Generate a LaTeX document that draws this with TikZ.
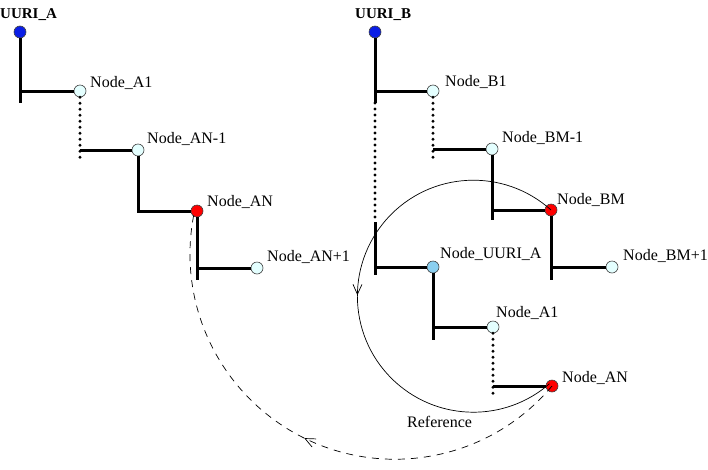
\documentclass[tikz,border=0pt]{standalone}
\usepackage{fontspec}
\setmainfont{Liberation Serif}
\usetikzlibrary{arrows.meta, positioning, decorations.markings}
\definecolor{colRoot}{HTML}{0A1EE6}
\definecolor{colLeaf}{HTML}{E4FFFF}
\definecolor{colHit}{HTML}{FF0000}
\definecolor{colLink}{HTML}{8ACFF0}

\begin{document}
\begin{tikzpicture}[x=1pt, y=1pt, font=\fontsize{16}{18}\selectfont,
    knot/.style={circle, draw=black!75, line width=0.6pt, inner sep=0pt, minimum size=12pt},
    branch/.style={line width=3pt},
    gap/.style={line width=3.2pt, line cap=round, dash pattern=on 0pt off 6pt},
    lbl/.style={anchor=base west, inner sep=0pt},
    rootlbl/.style={lbl, font=\fontsize{15}{18}\selectfont\bfseries},
    midarrow/.style={postaction={decorate}, decoration={markings,
        mark=at position 0.5 with {\arrow{Straight Barb[length=10pt, width=9pt]}}}}]
    \useasboundingbox (0,0) rectangle (708,-469);
    % Tree A
    \node[knot, fill=colRoot] (ua) at (20,-32) {};
    \node[knot, fill=colLeaf] (a1) at (80,-91) {};
    \node[knot, fill=colLeaf] (an1) at (138,-150) {};
    \node[knot, fill=colHit] (an) at (197,-211) {};
    \node[knot, fill=colLeaf] (anp) at (257,-268) {};
    \node[rootlbl] (ualbl) at (0,-18) {UURI\_A};
    \node[lbl] (a1lbl) at (90,-87) {Node\_A1};
    \node[lbl] (an1lbl) at (147,-143) {Node\_AN-1};
    \node[lbl] (anlbl) at (207,-206) {Node\_AN};
    \node[lbl] (anplbl) at (267,-261) {Node\_AN+1};
    \draw[branch] (ua) -- ++(0,-71);
    \draw[branch] (ua |- a1) -- (a1);
    \draw[gap] (a1) -- ++(0,-69);
    \draw[branch] (a1 |- an1) -- (an1);
    \draw[branch] (an1) |- (an);
    \draw[branch] (an) -- ++(0,-69);
    \draw[branch] (an |- anp) -- (anp);
    % Tree B
    \node[knot, fill=colRoot] (ub) at (375,-32) {};
    \node[knot, fill=colLeaf] (b1) at (433,-91) {};
    \node[knot, fill=colLeaf] (bm1) at (492,-149) {};
    \node[knot, fill=colHit] (bm) at (551,-210) {};
    \node[knot, fill=colLeaf] (bmp) at (612,-267) {};
    \node[knot, fill=colLink] (ub2) at (433,-267) {};
    \node[knot, fill=colLeaf] (b2) at (493,-327) {};
    \node[knot, fill=colHit] (bn) at (552,-386) {};
    \node[rootlbl] (ublbl) at (355,-18) {UURI\_B};
    \node[lbl] (b1lbl) at (445,-86) {Node\_B1};
    \node[lbl] (bm1lbl) at (502,-142) {Node\_BM-1};
    \node[lbl] (bmlbl) at (557,-204) {Node\_BM};
    \node[lbl] (bmplbl) at (623,-260) {Node\_BM+1};
    \node[lbl] (ub2lbl) at (440,-258) {Node\_UURI\_A};
    \node[lbl] (b2lbl) at (496,-317) {Node\_A1};
    \node[lbl] (bnlbl) at (562,-382) {Node\_AN};
    \coordinate (gb1) at (375,-103);
    \coordinate (gb2) at (375,-222);
    \draw[branch] (ub) -- (gb1);
    \draw[gap] (gb1) -- (gb2);
    \draw[branch] (gb2) -- ++(0,-53);
    \draw[branch] (gb2 |- ub2) -- (ub2);
    \draw[branch] (ub |- b1) -- (b1);
    \draw[gap] (b1) -- ++(0,-67);
    \draw[branch] (b1 |- bm1) -- (bm1);
    \draw[branch] (bm1) -- ++(0,-71);
    \draw[branch] (bm1 |- bm) -- (bm);
    \draw[branch] (bm) -- ++(0,-70);
    \draw[branch] (bm |- bmp) -- (bmp);
    \draw[branch] (ub2) -- ++(0,-73);
    \draw[branch] (ub2 |- b2) -- (b2);
    \draw[gap] (b2) -- ++(0,-70);
    \draw[branch] (b2 |- bn) -- (bn);
    % Reference
    \draw[line width=0.7pt, midarrow] (bm.center) arc[start angle=48, end angle=311, radius=116];
    \node[lbl] (reflbl) at (407,-427) {Reference};
    \draw[line width=0.7pt, dash pattern=on 7pt off 6pt, midarrow] (bn.center)
        arc[start angle=320, end angle=167.5, radius=205];
\end{tikzpicture}
\end{document}
